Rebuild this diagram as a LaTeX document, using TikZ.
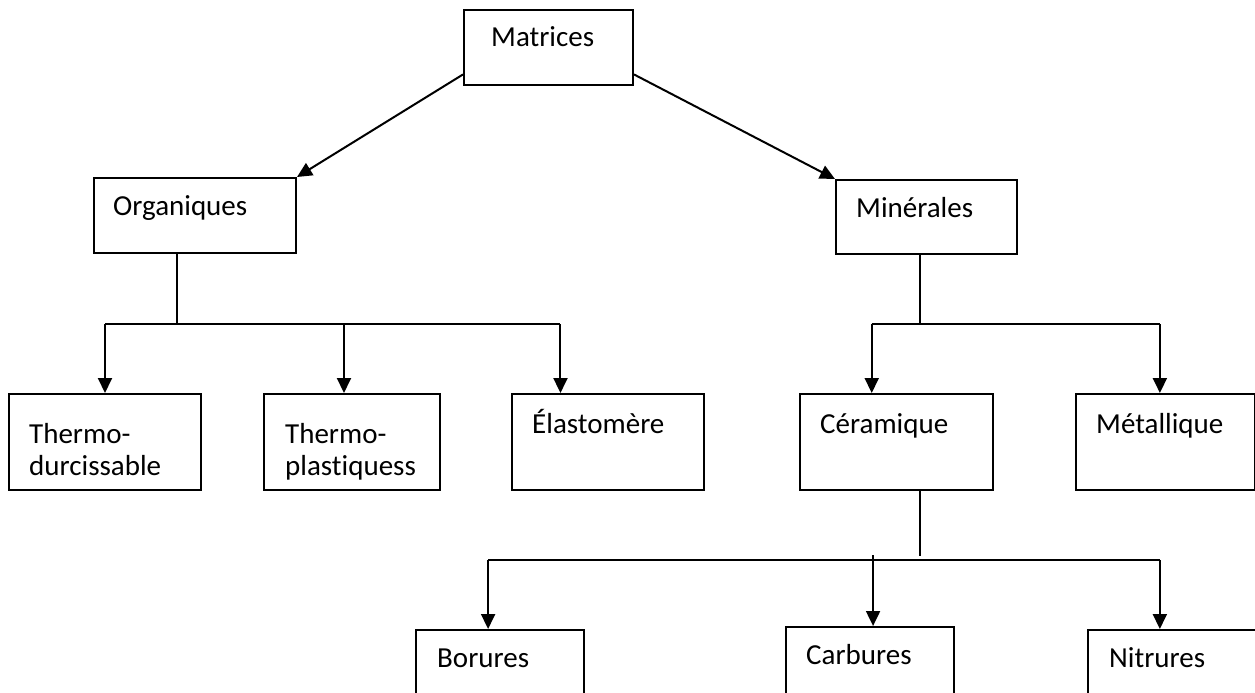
\documentclass[tikz,border=0pt]{standalone}
\usepackage{fontspec}
\setmainfont[Ligatures={NoCommon}]{Carlito}
\usetikzlibrary{arrows.meta,calc}
\begin{document}
\begin{tikzpicture}[x=1pt,y=-1pt,
  box/.style={draw,line width=2pt,inner sep=0pt,anchor=north west},
  lbl/.style={anchor=base west,inner sep=0pt,align=left,font=\fontsize{29}{32}\selectfont},
  ln/.style={line width=2pt},
  arr/.style={line width=2pt,-{Triangle[width=14pt,length=15pt]}}]
\useasboundingbox (0,0) rectangle (1255,693);
\clip (0,0) rectangle (1255,693);
% boxes
\node[box,minimum width=169pt,minimum height=75pt] (mat) at (463,9) {};
\node[box,minimum width=202pt,minimum height=75pt] (org) at (93,177) {};
\node[box,minimum width=181pt,minimum height=74pt] (min) at (835,179) {};
\node[box,minimum width=192pt,minimum height=96pt] (th1) at (8,393) {};
\node[box,minimum width=176pt,minimum height=96pt] (th2) at (263,393) {};
\node[box,minimum width=192pt,minimum height=96pt] (ela) at (511,393) {};
\node[box,minimum width=193pt,minimum height=96pt] (cer) at (799,393) {};
\node[box,minimum width=179pt,minimum height=96pt] (met) at (1075,393) {};
\node[box,minimum width=168pt,minimum height=100pt] (bor) at (415,629) {};
\node[box,minimum width=168pt,minimum height=100pt] (car) at (785,626) {};
\node[box,minimum width=169pt,minimum height=100pt] (nit) at (1087,629) {};
% labels
\node[lbl] (tmat) at (491,47) {Matrices};
\node[lbl] (torg) at (113,215) {Organiques};
\node[lbl] (tmin) at (856,217) {Minérales};
\node[lbl] (tth1) at (29,475) {Thermo-\\durcissable};
\node[lbl] (tth2) at (285,475) {Thermo-\\plastiquess};
\node[lbl] (tela) at (532,433) {Élastomère};
\node[lbl] (tcer) at (820,433) {Céramique};
\node[lbl] (tmet) at (1096,433) {Métallique};
\node[lbl] (tbor) at (437,667) {Borures};
\node[lbl] (tcar) at (806,664) {Carbures};
\node[lbl] (tnit) at (1109,667) {Nitrures};
% top arrows
\draw[arr] ($(mat.south west)!0.15!(mat.north west)$) -- (org.north east);
\draw[arr] ($(mat.south east)!0.15!(mat.north east)$) -- (min.north west);
% organiques branch
\coordinate (os) at ($(org.south west)!0.41!(org.south east)$);
\coordinate (oj) at ($(os)+(0,70)$);
\coordinate (a1) at (th1.north);
\coordinate (a2) at ($(th2.north west)!0.455!(th2.north east)$);
\coordinate (a3) at ($(ela.north west)!0.255!(ela.north east)$);
\draw[ln] (os) -- (oj);
\draw[ln] (a1 |- oj) -- (a3 |- oj);
\draw[arr] (a1 |- oj) -- (a1);
\draw[arr] (a2 |- oj) -- (a2);
\draw[arr] (a3 |- oj) -- (a3);
% minerales branch
\coordinate (ms) at ($(min.south west)!0.464!(min.south east)$);
\coordinate (mj) at ($(ms)+(0,69)$);
\coordinate (b1) at ($(cer.north west)!0.373!(cer.north east)$);
\coordinate (b2) at ($(met.north west)!0.469!(met.north east)$);
\draw[ln] (ms) -- (mj);
\draw[ln] (b1 |- mj) -- (b2 |- mj);
\draw[arr] (b1 |- mj) -- (b1);
\draw[arr] (b2 |- mj) -- (b2);
% ceramique branch
\coordinate (cs) at ($(cer.south west)!0.622!(cer.south east)$);
\coordinate (ce) at ($(cs)+(0,65)$);
\coordinate (cj) at ($(cs)+(0,69)$);
\coordinate (c1) at ($(bor.north west)!0.43!(bor.north east)$);
\coordinate (c2) at ($(car.north west)!0.518!(car.north east)$);
\coordinate (c3) at ($(nit.north west)!0.426!(nit.north east)$);
\draw[ln] (cs) -- (ce);
\draw[ln] (c1 |- cj) -- (c3 |- cj);
\draw[arr] (c1 |- cj) -- (c1);
\draw[arr] ($(c2 |- cj)+(0,-5)$) -- (c2);
\draw[arr] (c3 |- cj) -- (c3);
\end{tikzpicture}
\end{document}
